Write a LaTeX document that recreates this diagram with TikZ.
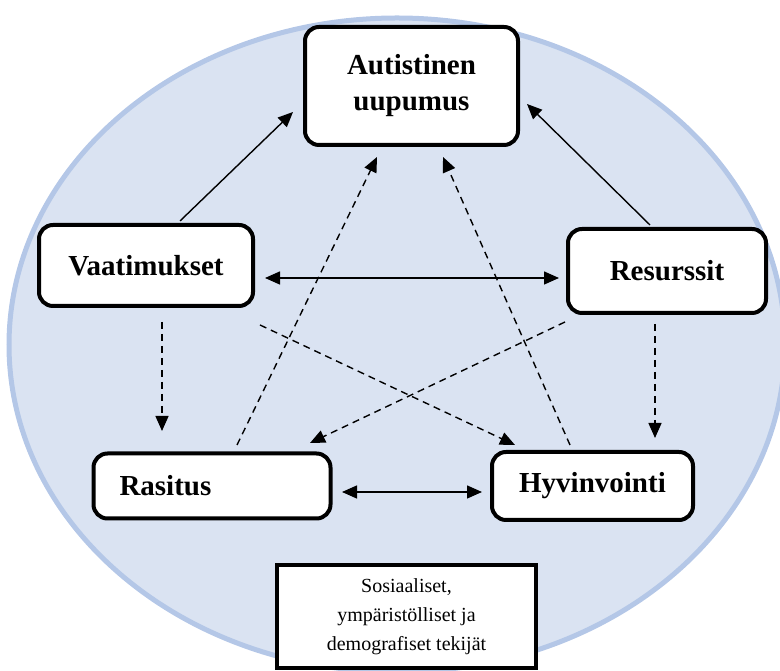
\documentclass[tikz,border=0pt]{standalone}
\usepackage{fontspec}
\setmainfont{Liberation Serif}
\usetikzlibrary{arrows.meta}
\definecolor{ellfill}{RGB}{218,227,242}
\definecolor{elldraw}{RGB}{180,199,231}

\begin{document}
\begin{tikzpicture}[x=1pt,y=1pt,>={Triangle[length=15pt,width=13pt]},
  main node/.style={draw,line width=4pt,rounded corners=14pt,fill=white,inner sep=0pt,align=center,font=\fontsize{29}{36}\selectfont\bfseries},
  solid link/.style={->,line width=1.4pt},
  dash link/.style={->,line width=1.4pt,dash pattern=on 7pt off 5pt}]

            \useasboundingbox (0,0) rectangle (780,671);
            \clip (0,0) rectangle (780,671);
            \draw[fill=ellfill, draw=elldraw, line width=5pt] (397,326) ellipse [x radius=388pt, y radius=327pt];

            \node[main node, minimum width=213pt, minimum height=118pt] (1) at (411.5,585) {Autistinen\\uupumus};
            \node[main node, minimum width=214pt, minimum height=81pt] (2) at (146,405.5) {Vaatimukset};
            \node[main node, minimum width=198pt, minimum height=84pt] (3) at (667,400) {Resurssit};
            \node[main node, minimum width=237pt, minimum height=65pt, inner xsep=26pt, text width=185pt, align=left] (4) at (212,185) {Rasitus};
            \node[main node, minimum width=201pt, minimum height=68pt] (5) at (592.5,185) {Hyvinvointi};
            \node[draw, line width=3.5pt, fill=white, minimum width=259pt, minimum height=103pt, align=center, font=\fontsize{20}{29}\selectfont] (6) at (406.5,54.5) {Sosiaaliset,\\ympäristölliset ja\\demografiset tekijät};

            \draw[solid link] ([shift={(34pt,2pt)}]2.north) -- ([shift={(-10pt,35pt)}]1.south west);
            \draw[solid link] ([shift={(-17pt,2pt)}]3.north) -- ([shift={(7pt,-18pt)}]1.east);
            \draw[solid link, <->] ([shift={(10pt,-12.5pt)}]2.east) -- ([shift={(-7pt,-7pt)}]3.west);
            \draw[solid link, <->] ([shift={(9.5pt,-6pt)}]4.east) -- ([shift={(-8pt,-6pt)}]5.west);

            \draw[dash link] ([shift={(16pt,-14pt)}]2.south) -- ([shift={(-50pt,20.5pt)}]4.north);
            \draw[dash link] ([shift={(-12pt,-9pt)}]3.south) -- ([shift={(62.5pt,12pt)}]5.north);
            \draw[dash link] ([shift={(25pt,6.5pt)}]4.north) -- ([shift={(-34.5pt,-10pt)}]1.south);
            \draw[dash link] ([shift={(-22.5pt,5pt)}]5.north) -- ([shift={(31.5pt,-10pt)}]1.south);
            \draw[dash link] ([shift={(5pt,-17pt)}]2.south east) -- ([shift={(25pt,5pt)}]5.north west);
            \draw[dash link] ([shift={(-1pt,-7pt)}]3.south west) -- ([shift={(-22.5pt,8.5pt)}]4.north east);

\end{tikzpicture}
\end{document}
